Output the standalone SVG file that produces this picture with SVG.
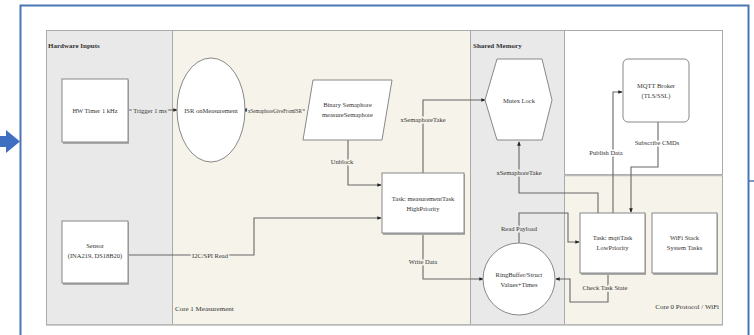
<svg xmlns="http://www.w3.org/2000/svg" width="754" height="335" viewBox="0 0 754 335">
<style>
.t{font-family:"Liberation Serif","Times New Roman",serif;font-size:6.5px;fill:#333;text-anchor:middle}
.h{font-family:"Liberation Serif","Times New Roman",serif;font-size:7px;font-weight:bold;fill:#333}
.hn{font-family:"Liberation Serif","Times New Roman",serif;font-size:7px;fill:#333}
.lane{stroke:#aaa;stroke-width:1}
.box{fill:#fff;stroke:#888;stroke-width:1}
.sh{fill:#aaa}
.c{fill:none;stroke:#666;stroke-width:1.1}
.lb1{paint-order:stroke;stroke:#f5f3ea;stroke-width:3}
.lbg{paint-order:stroke;stroke:#e9e9e9;stroke-width:3}
.lbw{paint-order:stroke;stroke:#fff;stroke-width:3}
</style>
<defs>
<marker id="a" viewBox="0 0 6 6" refX="5" refY="3" markerWidth="4" markerHeight="4" orient="auto" markerUnits="strokeWidth">
<path d="M0,0.5 L6,3 L0,5.5 Z" fill="#222"/>
</marker>
<marker id="d" viewBox="0 0 6 6" refX="3" refY="3" markerWidth="3.5" markerHeight="3.5" markerUnits="strokeWidth">
<circle cx="3" cy="3" r="2.6" fill="#222"/>
</marker>
</defs>
<rect width="754" height="335" fill="#fff"/>
<!-- outer frame -->
<rect x="20.5" y="5.5" width="728" height="340" fill="#fff" stroke="#4a76b4" stroke-width="2"/>
<path d="M0,136 L6,136 L6,130 L20,141.5 L6,153 L6,147 L0,147 Z" fill="#3f6fc0"/>
<path d="M749,181 L754,181" stroke="#4a76b4" stroke-width="1.5"/>
<!-- lanes -->
<g id="lanes">
<rect class="lane" x="46.5" y="30.5" width="126" height="294" fill="#e9e9e9"/>
<rect class="lane" x="172.5" y="30.5" width="298" height="294" fill="#f5f3ea"/>
<rect class="lane" x="470.5" y="30.5" width="94" height="294" fill="#e9e9e9"/>
<rect class="lane" x="564.5" y="30.5" width="158" height="144" fill="#fff"/>
<rect class="lane" x="564.5" y="174.5" width="158" height="150" fill="#f5f3ea"/>
<path d="M46,325 L723,325" stroke="#bbb" stroke-width="1.5"/>
<path d="M564,175.5 L723,175.5" stroke="#bbb" stroke-width="1.5"/>
<text class="h" x="48" y="48">Hardware Inputs</text>
<text class="h" x="473" y="48">Shared Memory</text>
<text class="hn" x="175" y="311">Core 1 Measurement</text>
<text class="hn" x="719" y="309" text-anchor="end">Core 0 Protocol / WiFi</text>
</g>
<!-- connectors -->
<g id="connectors">
<path class="c" d="M128,110 L177,110" marker-end="url(#a)"/>
<path class="c" d="M246,110 L305,110" marker-start="url(#d)"/>
<path class="c" d="M348,140 L348,185 L381,185" marker-end="url(#a)"/>
<path class="c" d="M128,255 L254,255 L254,218 L381,218" marker-end="url(#a)"/>
<path class="c" d="M423,173 L423,100 L485,100" marker-end="url(#a)"/>
<path class="c" d="M423,234 L423,279 L483,279" marker-end="url(#a)"/>
<path class="c" d="M598,213 L598,193 L519,193 L519,142" marker-end="url(#a)"/>
<path class="c" d="M613,213 L613,92 L622,92" marker-end="url(#a)"/>
<path class="c" d="M658,122 L658,167 L631,167 L631,212" marker-end="url(#a)"/>
<path class="c" d="M519,243 L519,213 L568,213 L568,242 L579,242" marker-end="url(#a)"/>
<path class="c" d="M608,274 L608,302 L570,302 L570,279 L556,279" marker-end="url(#a)"/>
<text class="t lbg" x="150" y="112.5">Trigger 1 ms</text>
<text class="t lb1" x="275" y="112.5" font-size="5" textLength="54" lengthAdjust="spacingAndGlyphs">xSemaphoreGiveFromISR</text>
<text class="t lb1" x="342" y="164">Unblock</text>
<text class="t lb1" x="423" y="122">xSemaphoreTake</text>
<text class="t lb1" x="210" y="257.5">I2C/SPI Read</text>
<text class="t lb1" x="423" y="264">Write Data</text>
<text class="t lbg" x="519" y="175">xSemaphoreTake</text>
<text class="t lbw" x="606" y="155">Publish Data</text>
<text class="t lbw" x="657" y="145">Subscribe CMDs</text>
<text class="t lbg" x="519" y="231">Read Payload</text>
<text class="t lb1" x="605" y="290">Check Task State</text>
</g>
<!-- nodes -->
<g id="hwtimer">
<rect class="sh" x="63" y="80" width="66" height="64"/>
<rect class="box" x="62" y="79" width="66" height="63"/>
<text class="t" x="95" y="112.5">HW Timer 1 kHz</text>
</g>
<g id="sensor">
<rect class="sh" x="63" y="222" width="66" height="63"/>
<rect class="box" x="62" y="221" width="66" height="62"/>
<text class="t" x="95" y="248">Sensor</text>
<text class="t" x="95" y="258">(INA219, DS18B20)</text>
</g>
<g id="isr">
<ellipse cx="211" cy="110" rx="34" ry="52" fill="#fff" stroke="#888"/>
<text class="t" x="211" y="112.5">ISR onMeasurement</text>
</g>
<g id="semaphore">
<path d="M313,80 L392,80 L382,140 L303,140 Z" fill="#fff" stroke="#888"/>
<text class="t" x="347.5" y="107">Binary Semaphore</text>
<text class="t" x="347.5" y="117">measureSemaphore</text>
</g>
<g id="measurementTask">
<rect class="sh" x="383" y="174" width="82" height="61"/>
<rect class="box" x="382" y="173" width="82" height="60"/>
<text class="t" x="423" y="201">Task: measurementTask</text>
<text class="t" x="423" y="211">HighPriority</text>
</g>
<g id="mutex">
<path d="M485,100 L497,59 L542,59 L552,100 L542,140 L497,140 Z" fill="#fff" stroke="#888"/>
<text class="t" x="519" y="102.5">Mutex Lock</text>
</g>
<g id="ringbuffer">
<circle cx="519" cy="279" r="36" fill="#fff" stroke="#888"/>
<text class="t" x="519" y="277">RingBuffer/Struct</text>
<text class="t" x="519" y="287">Values+Times</text>
</g>
<g id="broker">
<rect x="623" y="59" width="66" height="63" rx="5" fill="#fff" stroke="#888"/>
<text class="t" x="656" y="88">MQTT Broker</text>
<text class="t" x="656" y="98">(TLS/SSL)</text>
</g>
<g id="mqttTask">
<rect class="sh" x="581" y="214" width="65" height="61"/>
<rect class="box" x="580" y="213" width="65" height="60"/>
<text class="t" x="612.5" y="240">Task: mqttTask</text>
<text class="t" x="612.5" y="250">LowPriority</text>
</g>
<g id="wifi">
<rect class="sh" x="653" y="214" width="65" height="61"/>
<rect class="box" x="652" y="213" width="65" height="60"/>
<text class="t" x="684.5" y="240">WiFi Stack</text>
<text class="t" x="684.5" y="250">System Tasks</text>
</g>
</svg>
